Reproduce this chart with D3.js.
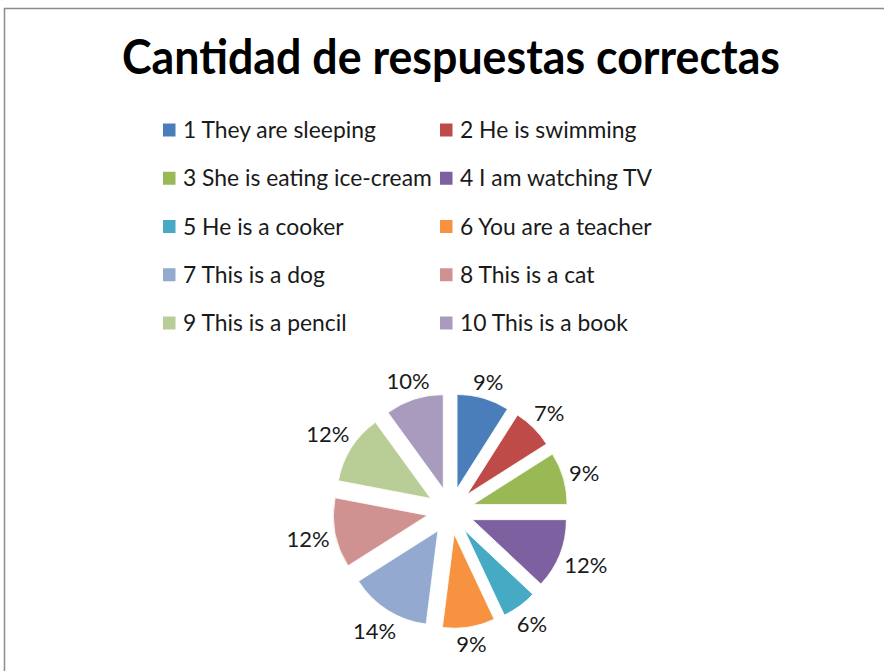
<!DOCTYPE html>
<html><head><meta charset="utf-8">
<script src="https://cdn.jsdelivr.net/npm/d3@7"></script>
<style>body{margin:0;background:#fff}svg{display:block}</style>
</head><body>
<svg id="c" width="884" height="671"></svg>
<script>
const title = "Cantidad de respuestas correctas";
const categories = ["1 They are sleeping","2 He is swimming","3 She is eating ice-cream","4 I am watching TV","5 He is a cooker","6 You are a teacher","7 This is a dog","8 This is a cat","9 This is a pencil","10 This is a book"];
const values = [9,7,9,12,6,9,14,12,12,10];
const colors = ["#4A7EBB","#BE4B48","#98B954","#7D60A0","#46AAC5","#F69240","#93A9D0","#D09291","#B9CD96","#A99BBD"];

const svg = d3.select("#c");
const font = "Lato, 'Open Sans', sans-serif";

// border
svg.append("rect").attr("x",4.5).attr("y",8.5).attr("width",1000).attr("height",1000)
  .attr("fill","none").attr("stroke","#8c8c8c").attr("stroke-width",1.5);

// title
svg.append("text").attr("x",451).attr("y",74).attr("text-anchor","middle")
  .attr("font-family",font).attr("font-weight","bold").attr("font-size",48)
  .attr("textLength",658).attr("lengthAdjust","spacingAndGlyphs")
  .attr("fill","#000").text(title);

// legend
const legX = [163, 440];
const legY = d3.scaleLinear().domain([0,4]).range([130,323]);
const leg = svg.append("g");
const items = leg.selectAll("g").data(categories).join("g")
  .attr("transform",(d,i)=>`translate(${legX[i%2]},${legY(Math.floor(i/2))})`);
items.append("rect").attr("x",0).attr("y",-6.5).attr("width",12.5).attr("height",13)
  .attr("fill",(d,i)=>colors[i]);
const lt = items.append("text").attr("x",20).attr("y",8)
  .attr("font-family",font).attr("font-size",21).attr("fill","#1a1a1a").text(d=>d);
const w3 = lt.nodes()[2].getComputedTextLength();
const fs = 21*249/w3;
lt.attr("font-size",fs);

// pie
const cx = 450.5, cy = 511, r = 94, expl = 23.5;
const pie = d3.pie().sort(null).value(d=>d)(values);
const arc = d3.arc().innerRadius(0).outerRadius(r);
const g = svg.append("g").attr("transform",`translate(${cx},${cy})`);
g.selectAll("path").data(pie).join("path")
  .attr("d",arc)
  .attr("fill",(d,i)=>colors[i])
  .attr("stroke","#fff").attr("stroke-width",0.8)
  .attr("transform",d=>{const a=(d.startAngle+d.endAngle)/2;return `translate(${expl*Math.sin(a)},${-expl*Math.cos(a)})`;});

const total = d3.sum(values);
const labs = g.selectAll("text.l").data(pie).join("text").attr("class","l")
  .attr("font-family",font).attr("font-size",22).attr("fill","#1a1a1a")
  .attr("text-anchor","middle").attr("dominant-baseline","central")
  .text(d=>Math.round(d.value/total*100)+"%");
labs.each(function(d){
  const a=(d.startAngle+d.endAngle)/2;
  const w=this.getComputedTextLength(), h=19;
  const R = 122 + (w/2)*Math.abs(Math.sin(a)) + (h/2)*Math.abs(Math.cos(a));
  d3.select(this).attr("x",R*Math.sin(a)).attr("y",-R*Math.cos(a));
});
</script>
</body></html>
